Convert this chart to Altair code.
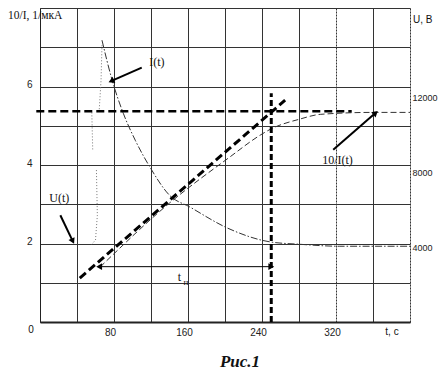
import altair as alt
import pandas as pd

# ---- axes / grid values ----
x_grid = list(range(0, 401, 40))
x_labels = [80, 160, 240, 320]
y_grid = list(range(0, 9))
y_labels = [2, 4, 6]
u_labels = [4000, 8000, 12000]

# ---- I(t) curve (dash-dot) ----
i_t = [67, 78, 90, 103, 119, 140, 162, 203, 249, 281, 324, 400]
i_v = [7.18, 6.16, 5.32, 4.63, 3.94, 3.23, 2.93, 2.39, 2.04, 1.98, 1.93, 1.93]

# ---- 10/I(t) curve (thin dashed) ----
r_t = [65, 140, 205, 238, 249, 281, 303, 360, 400]
r_v = [1.40, 3.03, 4.20, 4.76, 4.91, 5.17, 5.29, 5.34, 5.34]

# ---- U(t) dotted trace ----
u_t = [67, 66, 64, 56, 57, 61, 62, 60, 56]
u_v = [7.05, 6.16, 5.39, 5.34, 4.38, 3.87, 2.72, 2.09, 1.98]
u_seg = [0, 0, 0, 1, 1, 2, 2, 2, 2]

# ---- construction lines ----
fit_t = [43, 265]
fit_v = [1.12, 5.65]
asym_t = [-4, 337]
asym_v = [5.37, 5.37]
tn_t = [250, 250]
tn_v = [0, 5.83]
tp_t = [65, 249]
tp_v = [1.41, 1.41]

# ---- annotation arrows (t, v) -> (t2, v2), head angle ----
arr_t = [110, 22, 317]
arr_v = [6.48, 2.72, 4.39]
arr_t2 = [78, 35, 362]
arr_v2 = [6.15, 2.08, 5.31]
head_t = [78, 35, 362, 249, 65]
head_v = [6.15, 2.08, 5.31, 1.41, 1.41]
head_ang = [247, 154, 49, 90, 270]

# ---- labels ----
ann_text = ["I(t)", "U(t)", "10/I(t)", "t"]
ann_t = [118, 10, 305, 149]
ann_v = [6.62, 3.16, 4.13, 1.14]

W, H = 370, 314
xs = alt.Scale(domain=[0, 400], nice=False, zero=False)
ys = alt.Scale(domain=[0, 8], nice=False, zero=False)

lab_x_expr = " || ".join(f"datum.value == {v}" for v in x_labels)
lab_y_expr = " || ".join(f"datum.value == {v}" for v in y_labels)

xaxis = alt.Axis(values=x_grid, grid=True, ticks=False, title=None,
                 labelExpr=f"({lab_x_expr}) ? datum.label : ''",
                 labelFont="Liberation Sans", labelFontSize=10, labelColor="#222",
                 labelPadding=5, labelOffset=-4,
                 gridColor="#333", gridWidth=1,
                 gridDash=alt.condition("datum.value == 320 || datum.value == 400",
                                        alt.value([2, 1]), alt.value([])),
                 domainColor="#222", domainWidth=2)
yaxis = alt.Axis(values=y_grid, grid=True, ticks=False, title=None,
                 labelExpr=f"({lab_y_expr}) ? datum.label : ''",
                 labelFont="Liberation Sans", labelFontSize=10, labelColor="#222",
                 labelPadding=8, labelOffset=-2,
                 gridColor="#333", gridWidth=1,
                 domainColor="#222", domainWidth=1)


def X(f):
    return alt.X(f, type="quantitative", scale=xs, axis=xaxis)


def Y(f):
    return alt.Y(f, type="quantitative", scale=ys, axis=yaxis)


df_i = pd.DataFrame({"t": i_t, "v": i_v})
df_r = pd.DataFrame({"t": r_t, "v": r_v})
df_u = pd.DataFrame({"t": u_t, "v": u_v, "seg": u_seg, "o": list(range(len(u_t)))})
df_fit = pd.DataFrame({"t": fit_t, "v": fit_v})
df_asym = pd.DataFrame({"t": asym_t, "v": asym_v})
df_tn = pd.DataFrame({"t": tn_t, "v": tn_v})
df_tp = pd.DataFrame({"t": tp_t, "v": tp_v})
df_arr = pd.DataFrame({"t": arr_t, "v": arr_v, "t2": arr_t2, "v2": arr_v2})
df_head = pd.DataFrame({"t": head_t, "v": head_v, "a": head_ang})
df_ann = pd.DataFrame({"txt": ann_text, "t": ann_t, "v": ann_v})

grid_layer = alt.Chart(pd.DataFrame({"t": x_grid[:9], "v": y_grid})).mark_point(opacity=0).encode(
    x=X("t"), y=Y("v"))

i_line = alt.Chart(df_i).mark_line(color="#333", strokeWidth=1, strokeDash=[7, 2, 1.5, 2],
                                   interpolate="monotone").encode(x=X("t"), y=Y("v"))
r_line = alt.Chart(df_r).mark_line(color="#333", strokeWidth=1, strokeDash=[6, 3],
                                   interpolate="monotone").encode(x=X("t"), y=Y("v"))
u_line = alt.Chart(df_u).mark_line(color="#777", strokeWidth=1, strokeDash=[1, 2]).encode(
    x=X("t"), y=Y("v"), detail="seg:N", order="o:Q")
fit_line = alt.Chart(df_fit).mark_line(color="black", strokeWidth=3, strokeDash=[8, 4]).encode(
    x=X("t"), y=Y("v"))
asym_line = alt.Chart(df_asym).mark_line(color="black", strokeWidth=2.5, strokeDash=[8, 4]).encode(
    x=X("t"), y=Y("v"))
tn_line = alt.Chart(df_tn).mark_line(color="black", strokeWidth=3, strokeDash=[6, 3]).encode(
    x=X("t"), y=Y("v"))
tp_line = alt.Chart(df_tp).mark_line(color="black", strokeWidth=1).encode(x=X("t"), y=Y("v"))
arrows = alt.Chart(df_arr).mark_rule(color="black", strokeWidth=2).encode(
    x=X("t"), y=Y("v"), x2="t2:Q", y2="v2:Q")
heads = alt.Chart(df_head).mark_point(shape="triangle", filled=True, size=45, color="black",
                                      opacity=1).encode(
    x=X("t"), y=Y("v"), angle=alt.Angle("a:Q", scale=None))
ann = alt.Chart(df_ann).mark_text(font="Liberation Serif", fontSize=12, align="left",
                                  baseline="middle", color="#111").encode(
    x=X("t"), y=Y("v"), text="txt:N")
sub = alt.Chart(pd.DataFrame({"txt": ["п"], "t": [155], "v": [1.02]})).mark_text(
    font="Liberation Serif", fontSize=9, align="left", baseline="middle", color="#111").encode(
    x=X("t"), y=Y("v"), text="txt:N")

# free text (axis titles, corner labels, caption)
free = alt.Chart(pd.DataFrame({"txt": ["10/I, 1/мкА"]})).mark_text(
    font="Liberation Serif", fontSize=11.5, align="left", baseline="middle", color="#111").encode(
    x=alt.value(-32), y=alt.value(8), text="txt:N")
ub = alt.Chart(pd.DataFrame({"txt": ["U, B"]})).mark_text(
    font="Liberation Sans", fontSize=10, align="left", baseline="middle", color="#111").encode(
    x=alt.value(373), y=alt.value(12), text="txt:N")
zero = alt.Chart(pd.DataFrame({"txt": ["0"]})).mark_text(
    font="Liberation Sans", fontSize=10, align="center", baseline="top", color="#111").encode(
    x=alt.value(-9), y=alt.value(317), text="txt:N")
tc = alt.Chart(pd.DataFrame({"txt": ["t, c"]})).mark_text(
    font="Liberation Sans", fontSize=10, align="center", baseline="top", color="#111").encode(
    x=alt.value(352), y=alt.value(319), text="txt:N")
cap = alt.Chart(pd.DataFrame({"txt": ["Рис.1"]})).mark_text(
    font="Liberation Serif", fontSize=17, fontWeight="bold", fontStyle="italic",
    align="center", baseline="alphabetic", color="#111").encode(
    x=alt.value(200), y=alt.value(359), text="txt:N")

left = alt.layer(grid_layer, u_line, i_line, r_line, fit_line, asym_line, tn_line, tp_line,
                 arrows, heads, ann, sub, free, ub, zero, tc, cap)

right = alt.Chart(pd.DataFrame({"u": u_labels})).mark_point(opacity=0).encode(
    y=alt.Y("u:Q", scale=alt.Scale(domain=[0, 16800], nice=False, zero=False),
            axis=alt.Axis(orient="right", values=u_labels, grid=False, ticks=False, domain=False,
                          format="d", title=None, labelFont="Liberation Sans", labelFontSize=9,
                          labelColor="#222", labelPadding=2)))

chart = alt.layer(left, right).resolve_scale(y="independent").properties(
    width=W, height=H,
    autosize=alt.AutoSizeParams(type="none"),
    padding={"left": 32, "top": 0, "right": 28, "bottom": 48},
).configure_view(stroke=None).configure(background="white")

chart.save("out.html", embed_options={"renderer": "svg", "actions": False})
